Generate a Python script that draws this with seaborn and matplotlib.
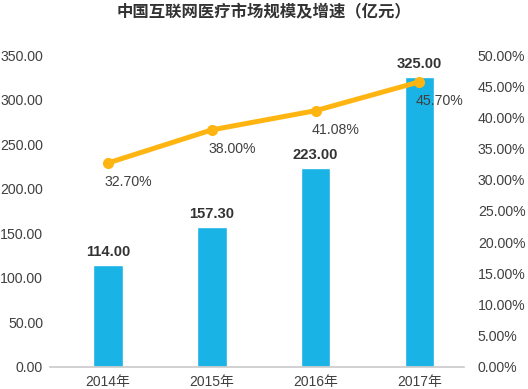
import seaborn as sns
import matplotlib
matplotlib.use("Agg")
import matplotlib.pyplot as plt
from matplotlib.ticker import FuncFormatter

# chart data
years = ["2014年", "2015年", "2016年", "2017年"]
market_size = [114.00, 157.30, 223.00, 325.00]
growth_rate = [32.70, 38.00, 41.08, 45.70]

bar_color = "#1AB3E6"
line_color = "#FFB511"
text_color = "#404040"

sns.set_theme(style="white")
plt.rcParams["font.family"] = ["Liberation Sans", "Noto Sans CJK SC"]

fig = plt.figure(figsize=(5.28, 3.89), dpi=100)
ax = fig.add_axes([0.0947, 0.0566, 0.784, 0.802])

sns.barplot(x=years, y=market_size, color=bar_color, width=0.285,
            saturation=1, ax=ax)
ax.set_xlim(-0.56, 3.43)
ax.set_ylim(0, 350)
ax.set_yticks(range(0, 351, 50))
ax.yaxis.set_major_formatter(FuncFormatter(lambda v, p: f"{v:.2f}"))
ax.tick_params(axis="y", length=0, pad=5, labelsize=10.2, labelcolor=text_color)
ax.tick_params(axis="x", length=0, pad=6, labelsize=10, labelcolor=text_color)
for s in ["top", "right", "left"]:
    ax.spines[s].set_visible(False)
ax.spines["bottom"].set_color("#cccccc")
ax.set_xlabel("")
ax.set_ylabel("")

for i, v in enumerate(market_size):
    ax.annotate(f"{v:.2f}", (i, v), xytext=(0, 4.5), textcoords="offset points",
                ha="center", va="bottom", fontsize=10.6, fontweight="bold",
                color="#333333")

ax2 = ax.twinx()
sns.lineplot(x=list(range(len(years))), y=growth_rate, color=line_color,
             linewidth=3.6, marker="o", markersize=8, markeredgewidth=0,
             ax=ax2)
ax2.set_ylim(0, 50)
ax2.set_yticks(range(0, 51, 5))
ax2.yaxis.set_major_formatter(FuncFormatter(lambda v, p: f"{v:.2f}%"))
ax2.tick_params(axis="y", length=0, pad=10, labelsize=10.2, labelcolor=text_color)
for s in ["top", "right", "left", "bottom"]:
    ax2.spines[s].set_visible(False)
ax2.set_ylabel("")

for i, v in enumerate(growth_rate):
    ax2.annotate(f"{v:.2f}%", (i, v), xytext=(14.4, -13.7), textcoords="offset points",
                 ha="center", va="center", fontsize=10.2, color=text_color)

fig.text(0.5, 0.968, "中国互联网医疗市场规模及增速（亿元）", ha="center", va="center",
         fontsize=11.8, fontweight="bold", color="#333333",
         family=["Noto Sans CJK SC", "Liberation Sans"])

fig.savefig("out.png", dpi=100)
